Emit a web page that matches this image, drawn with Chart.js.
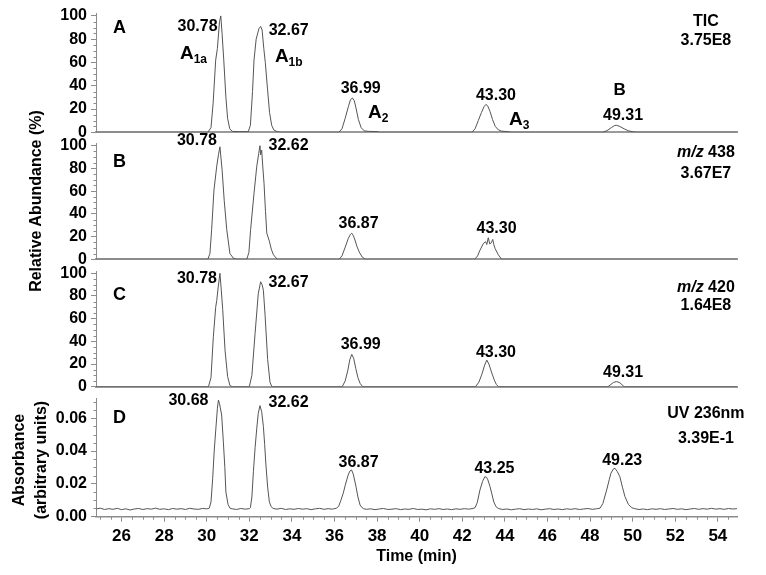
<!DOCTYPE html>
<html>
<head>
<meta charset="utf-8">
<script src="https://cdn.jsdelivr.net/npm/chart.js@4.4.1/dist/chart.umd.min.js"></script>
<style>
    body { margin: 0; background: #fff; }
    #wrap { position: relative; width: 766px; height: 575px; font-family: Arial, "Liberation Sans", sans-serif; }
    #wrap canvas { position: absolute; left: 0; top: 0; }
    .ytitle { position: absolute; font-weight: bold; font-size: 16px; text-align: center; transform: rotate(-90deg); white-space: nowrap; color: #000; }
</style>
</head>
<body>
<div id="wrap">
    <canvas id="panelA" width="766" height="575"></canvas>
    <canvas id="panelB" width="766" height="575"></canvas>
    <canvas id="panelC" width="766" height="575"></canvas>
    <canvas id="panelD" width="766" height="575"></canvas>
    <div class="ytitle" style="left:-114.5px; top:191px; width:300px; line-height:20px;">Relative Abundance (%)</div>
    <div class="ytitle" style="left:-70px; top:438px; width:200px; height:44px; line-height:22px;">Absorbance<br>(arbitrary units)</div>
</div>
<script>
const FONT = 'Arial, "Liberation Sans", sans-serif';

// time axis (min)
const timeMin = 24.8;
const timeMax = 54.9;
const timeTicks = [26, 28, 30, 32, 34, 36, 38, 40, 42, 44, 46, 48, 50, 52, 54];
const pctTicks = [0, 20, 40, 60, 80, 100];
const absTicks = [0, 0.02, 0.04, 0.06];

// A - TIC, [time, relative abundance %]
const ticTrace = [
    [24.8, 0], [30.05, 0], [30.2, 4], [30.3, 25], [30.42, 62], [30.5, 72], [30.6, 95], [30.66, 100], [30.72, 85],
    [30.8, 62], [30.9, 30], [30.98, 12], [31.08, 3], [31.2, 0.8], [31.5, 0.6], [31.8, 0.6], [31.95, 0.5],
    [32.05, 6], [32.15, 35], [32.22, 62], [32.32, 80], [32.45, 89], [32.53, 91], [32.6, 88], [32.68, 72],
    [32.75, 60], [32.85, 38], [32.95, 17], [33.05, 6], [33.15, 2], [33.3, 0.6], [33.45, 0],
    [36.2, 0], [36.35, 3], [36.5, 12], [36.65, 22], [36.75, 28], [36.84, 29.5], [36.93, 27], [37.02, 20],
    [37.12, 11], [37.25, 4], [37.4, 1.2], [37.6, 0.8], [38.0, 0.6], [38.1, 0],
    [42.45, 0], [42.6, 3], [42.75, 10], [42.9, 17], [43.02, 22], [43.11, 24], [43.2, 22.5], [43.3, 18],
    [43.42, 11], [43.55, 5], [43.7, 2], [43.85, 1], [44.15, 0.5], [44.3, 0],
    [48.6, 0], [48.8, 1.5], [49.0, 4], [49.15, 5.8], [49.25, 6], [49.4, 5], [49.6, 3], [49.8, 1.3],
    [50.05, 0.3], [50.2, 0], [54.9, 0]
];

// B - m/z 438
const mz438Trace = [
    [24.8, 0], [30.05, 0], [30.15, 5], [30.23, 26], [30.34, 61], [30.47, 82], [30.55, 92], [30.62, 99],
    [30.72, 79], [30.82, 52], [30.94, 26], [31.09, 5], [31.25, 1], [31.4, 0],
    [31.88, 0], [31.98, 6], [32.06, 26], [32.22, 58], [32.35, 82], [32.44, 93], [32.5, 100], [32.53, 92],
    [32.58, 96], [32.63, 82], [32.69, 67], [32.76, 42], [32.82, 23], [32.94, 16], [33.03, 9], [33.13, 4], [33.31, 0],
    [36.22, 0], [36.35, 3], [36.49, 10], [36.65, 18.5], [36.75, 22], [36.81, 23], [36.88, 21], [36.96, 17],
    [37.06, 11], [37.16, 6.5], [37.3, 2], [37.45, 0],
    [42.58, 0], [42.72, 3], [42.83, 8], [42.99, 14], [43.1, 15.5], [43.15, 13], [43.22, 19], [43.29, 13.5],
    [43.36, 14.5], [43.43, 17.5], [43.48, 13], [43.54, 9.5], [43.69, 4], [43.85, 0], [54.9, 0]
];

// C - m/z 420
const mz420Trace = [
    [24.8, 0], [30.08, 0], [30.2, 8], [30.31, 44], [30.42, 70], [30.47, 76], [30.54, 88], [30.62, 100],
    [30.68, 86], [30.75, 68], [30.86, 32], [30.98, 9], [31.09, 1], [31.2, 0],
    [32.0, 0], [32.12, 10], [32.27, 47], [32.42, 82], [32.53, 92.5], [32.6, 90], [32.66, 85], [32.74, 63],
    [32.86, 24], [32.97, 4], [33.06, 0],
    [36.36, 0], [36.5, 5], [36.62, 14], [36.72, 24], [36.81, 28.5], [36.9, 25], [37.0, 16], [37.1, 8],
    [37.2, 3], [37.32, 0],
    [42.62, 0], [42.78, 4], [42.92, 11], [43.05, 19], [43.15, 23.5], [43.25, 20], [43.37, 13], [43.5, 6],
    [43.6, 2], [43.7, 0],
    [48.84, 0], [48.98, 2], [49.1, 3.8], [49.25, 4.5], [49.4, 3.5], [49.5, 1.8], [49.6, 0], [54.9, 0]
];

// D - UV 236 nm, absorbance
const uvTrace = [
    [24.8, 0.0047], [25.0, 0.0052], [25.2, 0.0044], [25.4, 0.0049], [25.6, 0.0045], [25.8, 0.0051], [26.0, 0.0043],
    [26.2, 0.0048], [26.4, 0.0041], [26.6, 0.0047], [26.8, 0.0050], [27.0, 0.0044], [27.2, 0.0049], [27.4, 0.0046],
    [27.6, 0.0052], [27.8, 0.0045], [28.0, 0.0048], [28.2, 0.0043], [28.4, 0.0050], [28.6, 0.0046], [28.8, 0.0049],
    [29.0, 0.0044], [29.2, 0.0051], [29.4, 0.0047], [29.6, 0.0045], [29.8, 0.0050], [30.0, 0.0048],
    [30.12, 0.0052], [30.2, 0.009], [30.28, 0.0234], [30.35, 0.040], [30.43, 0.054], [30.5, 0.066], [30.55, 0.0711],
    [30.6, 0.069], [30.7, 0.062], [30.78, 0.0457], [30.85, 0.030], [30.9, 0.015], [31.0, 0.0075], [31.09, 0.0052],
    [31.2, 0.0048], [31.4, 0.0044], [31.6, 0.0050], [31.8, 0.0046], [32.0, 0.0049],
    [32.05, 0.0055], [32.12, 0.012], [32.19, 0.0274], [32.27, 0.042], [32.35, 0.054], [32.42, 0.063], [32.5, 0.0677],
    [32.58, 0.064], [32.66, 0.055], [32.72, 0.044], [32.78, 0.0315], [32.86, 0.018], [32.94, 0.0091], [33.02, 0.0062],
    [33.12, 0.0050], [33.3, 0.0046], [33.5, 0.0051], [33.7, 0.0044], [33.9, 0.0048], [34.1, 0.0045], [34.3, 0.0050],
    [34.5, 0.0046], [34.7, 0.0049], [34.9, 0.0043], [35.1, 0.0048], [35.3, 0.0051], [35.5, 0.0045], [35.7, 0.0049],
    [35.9, 0.0046], [36.1, 0.0052], [36.2, 0.0065], [36.3, 0.0100], [36.41, 0.0143], [36.5, 0.019], [36.64, 0.0254],
    [36.72, 0.0278], [36.8, 0.0285], [36.88, 0.026], [37.01, 0.0183], [37.1, 0.012], [37.2, 0.0071], [37.3, 0.0054],
    [37.36, 0.0049], [37.5, 0.0045], [37.7, 0.0048], [37.9, 0.0043], [38.1, 0.0047], [38.3, 0.0050], [38.5, 0.0044],
    [38.7, 0.0046], [38.9, 0.0049], [39.1, 0.0043], [39.3, 0.0047], [39.5, 0.0045], [39.7, 0.0050], [39.9, 0.0044],
    [40.1, 0.0046], [40.3, 0.0042], [40.5, 0.0048], [40.7, 0.0045], [40.9, 0.0049], [41.1, 0.0044], [41.3, 0.0047],
    [41.5, 0.0043], [41.7, 0.0048], [41.9, 0.0045], [42.1, 0.0049], [42.3, 0.0046], [42.5, 0.0050],
    [42.6, 0.0055], [42.7, 0.0085], [42.83, 0.0163], [42.95, 0.0215], [43.06, 0.0244], [43.14, 0.0240], [43.2, 0.0225],
    [43.3, 0.0185], [43.38, 0.0143], [43.48, 0.0090], [43.58, 0.0062], [43.69, 0.0050], [43.9, 0.0044], [44.1, 0.0047],
    [44.3, 0.0042], [44.5, 0.0046], [44.7, 0.0049], [44.9, 0.0043], [45.1, 0.0047], [45.3, 0.0044], [45.5, 0.0048],
    [45.7, 0.0042], [45.9, 0.0046], [46.1, 0.0049], [46.3, 0.0044], [46.5, 0.0047], [46.7, 0.0043], [46.9, 0.0048],
    [47.1, 0.0045], [47.3, 0.0049], [47.5, 0.0044], [47.7, 0.0047], [47.9, 0.0050], [48.1, 0.0045], [48.3, 0.0048],
    [48.47, 0.0052], [48.6, 0.0080], [48.78, 0.0163], [48.9, 0.0225], [48.98, 0.0265], [49.1, 0.0292], [49.17, 0.0295],
    [49.28, 0.0275], [49.4, 0.0244], [49.52, 0.018], [49.64, 0.0122], [49.8, 0.0075], [49.96, 0.0055], [50.1, 0.0049],
    [50.3, 0.0044], [50.5, 0.0047], [50.7, 0.0043], [50.9, 0.0048], [51.1, 0.0045], [51.3, 0.0049], [51.5, 0.0044],
    [51.7, 0.0047], [51.9, 0.0050], [52.1, 0.0045], [52.3, 0.0048], [52.5, 0.0043], [52.7, 0.0047], [52.9, 0.0050],
    [53.1, 0.0045], [53.3, 0.0049], [53.5, 0.0046], [53.7, 0.0051], [53.9, 0.0046], [54.1, 0.0049], [54.3, 0.0045],
    [54.5, 0.0050], [54.7, 0.0047], [54.9, 0.0049]
];

// peak labels: [text, time, value]
const ticLabels = [['30.78', 29.57, 86.9], ['32.67', 33.85, 83.2], ['36.99', 37.23, 33.9], ['43.30', 43.58, 27.6], ['49.31', 49.55, 10.5]];
const mz438Labels = [['30.78', 29.54, 100.6], ['32.62', 33.84, 96.2], ['36.87', 37.13, 27.3], ['43.30', 43.61, 23.4]];
const mz420Labels = [['30.78', 29.54, 91.7], ['32.67', 33.84, 87.9], ['36.99', 37.23, 33.0], ['43.30', 43.58, 26.5], ['49.31', 49.55, 8.8]];
const uvLabels = [['30.68', 29.14, 0.0681], ['32.62', 33.84, 0.0671], ['36.87', 37.13, 0.0305], ['43.25', 43.51, 0.0265], ['49.23', 49.51, 0.0315]];

// compound names in TIC: [name, subscript, time, value]
const compoundNames = [['A', '1a', 28.74, 63.3], ['A', '1b', 33.2, 60.4], ['A', '2', 37.57, 12.0], ['A', '3', 44.19, 6.2], ['B', '', 49.1, 31.9]];

// panel letter, trace info lines
const panels = [
    { id: 'panelA', letter: 'A', letterY: 84.9, info: [['', 'TIC', 91.7], ['', '3.75E8', 74.6]] },
    { id: 'panelB', letter: 'B', letterY: 81.3, info: [['m/z', ' 438', 90], ['', '3.67E7', 71.6]] },
    { id: 'panelC', letter: 'C', letterY: 76.5, info: [['m/z', ' 420', 83.5], ['', '1.64E8', 67.6]] },
    { id: 'panelD', letter: 'D', letterY: 0.0571, info: [['', 'UV 236nm', 0.0602], ['', '3.39E-1', 0.0449]] }
];
const infoTime = 53.44;
const letterTime = 25.6;

const panelText = {
    id: 'panelText',
    afterDatasetsDraw(chart, args, opts) {
        const ctx = chart.ctx;
        const px = v => chart.scales.x.getPixelForValue(v);
        const py = v => chart.scales.y.getPixelForValue(v);
        ctx.save();
        ctx.fillStyle = '#000';
        ctx.textBaseline = 'alphabetic';

        ctx.font = 'bold 18px ' + FONT;
        ctx.textAlign = 'left';
        ctx.fillText(opts.letter, px(letterTime), py(opts.letterY));

        ctx.font = 'bold 16px ' + FONT;
        ctx.textAlign = 'center';
        opts.labels.forEach(([t, x, y]) => ctx.fillText(t, px(x), py(y)));

        // info lines, italic prefix
        opts.info.forEach(([it, txt, y]) => {
            ctx.font = 'italic bold 16px ' + FONT;
            const w1 = ctx.measureText(it).width;
            ctx.font = 'bold 16px ' + FONT;
            const w2 = ctx.measureText(txt).width;
            const x0 = px(infoTime) - (w1 + w2) / 2;
            ctx.textAlign = 'left';
            ctx.font = 'italic bold 16px ' + FONT;
            ctx.fillText(it, x0, py(y));
            ctx.font = 'bold 16px ' + FONT;
            ctx.fillText(txt, x0 + w1, py(y));
        });

        if (opts.names) {
            ctx.textAlign = 'left';
            opts.names.forEach(([n, sub, x, y]) => {
                ctx.font = 'bold 19px ' + FONT;
                if (!sub) ctx.font = 'bold 17px ' + FONT;
                ctx.fillText(n, px(x), py(y));
                const w = ctx.measureText(n).width;
                ctx.font = 'bold 12px ' + FONT;
                ctx.fillText(sub, px(x) + w, py(y) + 4);
            });
        }
        ctx.restore();
    }
};

const minorTicks = {
    id: 'minorTicks',
    afterDraw(chart, args, opts) {
        const ctx = chart.ctx, xs = chart.scales.x, ys = chart.scales.y;
        ctx.save();
        ctx.strokeStyle = '#8c8c8c';
        ctx.lineWidth = 1;
        ctx.beginPath();
        const ax = Math.round(ys.right) + 0.5;
        for (let i = 0; i * opts.yStep <= ys.max + 1e-9; i++) {
            const v = i * opts.yStep;
            const r = v / opts.yMajor;
            if (Math.abs(r - Math.round(r)) < 1e-6) continue;
            const y = Math.round(ys.getPixelForValue(v)) + 0.5;
            ctx.moveTo(ax - 3, y);
            ctx.lineTo(ax, y);
        }
        if (opts.xStep) {
            const ay = xs.top;
            for (let v = Math.ceil(timeMin / opts.xStep) * opts.xStep; v <= timeMax; v += opts.xStep) {
                const r = v / 2;
                if (Math.abs(r - Math.round(r)) < 1e-6) continue;
                const x = Math.round(xs.getPixelForValue(v)) + 0.5;
                ctx.moveTo(x, ay);
                ctx.lineTo(x, ay + 3);
            }
        }
        ctx.stroke();
        ctx.restore();
    }
};

function yScale(max, ticks, fmt) {
    return {
        min: 0,
        max: max,
        afterBuildTicks: s => { s.ticks = ticks.map(v => ({ value: v })); },
        afterFit: s => { s.width = 96; },
        border: { color: '#8c8c8c', width: 1 },
        grid: { drawOnChartArea: false, tickLength: 5, color: '#8c8c8c' },
        ticks: { color: '#000', font: { family: FONT, size: 16, weight: 'bold' }, padding: 4, callback: fmt }
    };
}

function makePanel(p, trace, labels, top, bottom, isLast) {
    const xAxis = isLast ? {
        type: 'linear', min: timeMin, max: timeMax,
        afterBuildTicks: s => { s.ticks = timeTicks.map(v => ({ value: v })); },
        afterFit: s => { s.height = 58.3; },
        border: { color: '#8c8c8c', width: 1.5 },
        grid: { drawOnChartArea: false, tickLength: 5, color: '#8c8c8c' },
        ticks: { color: '#000', font: { family: FONT, size: 17, weight: 'bold' }, padding: 4, maxRotation: 0 },
        title: { display: true, text: 'Time (min)', color: '#000', font: { family: FONT, size: 16, weight: 'bold' }, padding: { top: 0, bottom: 8.7 } }
    } : {
        type: 'linear', min: timeMin, max: timeMax, z: 1,
        afterFit: s => { s.height = 0; },
        ticks: { display: false },
        grid: { display: false, drawTicks: false },
        border: { color: '#9a9a9a', width: 2 }
    };
    const y = isLast
        ? yScale(0.072, absTicks, v => v.toFixed(2))
        : yScale(102, pctTicks, v => v);

    new Chart(document.getElementById(p.id), {
        type: 'line',
        data: {
            datasets: [{
                data: trace.map(([t, v]) => ({ x: t, y: v })),
                borderColor: '#555',
                borderWidth: 1,
                pointRadius: 0,
                tension: 0,
                fill: false
            }]
        },
        options: {
            responsive: false,
            animation: false,
            layout: { padding: { top: top, bottom: bottom, left: 0, right: 29 } },
            scales: { x: xAxis, y: y },
            plugins: {
                legend: { display: false },
                tooltip: { enabled: false },
                panelText: { letter: p.letter, letterY: p.letterY, info: p.info, labels: labels, names: p.id === 'panelA' ? compoundNames : null },
                minorTicks: isLast ? { yStep: 0.005, yMajor: 0.02, xStep: 0.5 } : { yStep: 5, yMajor: 20 }
            }
        },
        plugins: [panelText, minorTicks]
    });
}

document.addEventListener('DOMContentLoaded', function () {
    makePanel(panels[0], ticTrace, ticLabels, 13, 442.7, false);
    makePanel(panels[1], mz438Trace, mz438Labels, 143.4, 315.7, false);
    makePanel(panels[2], mz420Trace, mz420Labels, 271, 188.3, false);
    makePanel(panels[3], uvTrace, uvLabels, 398.6, 0, true);
});
</script>
</body>
</html>
